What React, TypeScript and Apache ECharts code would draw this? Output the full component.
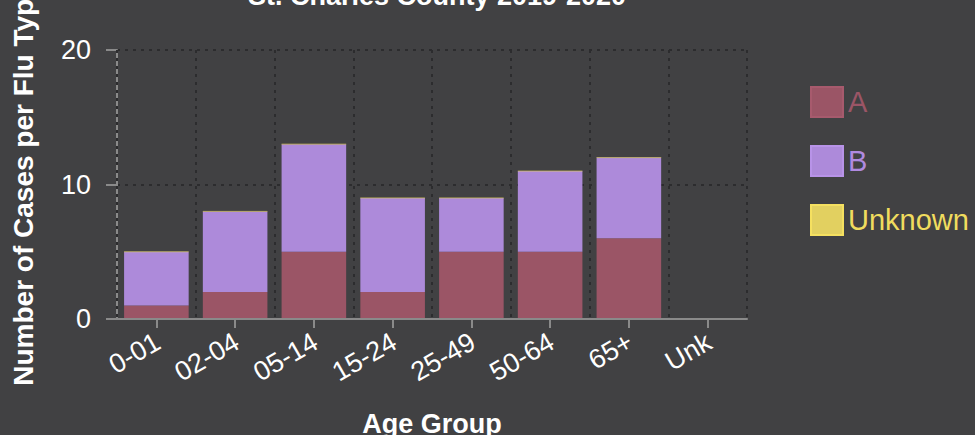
import React, { useEffect, useRef } from "react";
import * as echarts from "echarts";

const categories = ["0-01", "02-04", "05-14", "15-24", "25-49", "50-64", "65+", "Unk"];
const seriesA = [1, 2, 5, 2, 5, 5, 6, 0];
const seriesB = [4, 6, 8, 7, 4, 6, 6, 0];
const seriesUnknown = [0, 0, 0, 0, 0, 0, 0, 0];
const yTicks = { min: 0, max: 20, interval: 10 };

const FONT = "Liberation Sans, Arial, sans-serif";
const BG = "#414143";

export default function App() {
  const ref = useRef<HTMLDivElement>(null);
  useEffect(() => {
    if (!ref.current) return;
    const chart = echarts.init(ref.current, null, { renderer: "svg" });
    chart.setOption({
      animation: false,
      backgroundColor: BG,
      textStyle: { fontFamily: FONT },
      title: {
        text: "St. Charles County 2019-2020",
        left: 432,
        textAlign: "center",
        top: -23,
        textStyle: { color: "#ffffff", fontSize: 27, fontWeight: "bold", fontFamily: FONT },
      },
      legend: {
        orient: "vertical",
        left: 810,
        top: 86,
        padding: 0,
        itemWidth: 32,
        itemHeight: 30,
        itemGap: 27,
        icon: "rect",
        textStyle: { fontSize: 29, fontFamily: FONT },
        data: [
          { name: "A", textStyle: { color: "#9b5566" }, itemStyle: { color: "#9b5566", borderColor: "#a75a6d", borderWidth: 2 } },
          { name: "B", textStyle: { color: "#b08ae0" }, itemStyle: { color: "#ad8ada", borderColor: "#b893e8", borderWidth: 2 } },
          { name: "Unknown", textStyle: { color: "#f0dc5e" }, itemStyle: { color: "#e2d060", borderColor: "#f5e060", borderWidth: 2 } },
        ],
      },
      grid: { left: 117, right: 228, top: 50, bottom: 116, containLabel: false, outerBoundsMode: "none" },
      xAxis: {
        type: "category",
        data: categories,
        name: "Age Group",
        nameLocation: "middle",
        nameGap: 91,
        nameTextStyle: { color: "#ffffff", fontSize: 27, fontWeight: "bold", fontFamily: FONT },
        axisLine: { show: true, lineStyle: { color: "#8a8a8a", width: 2 } },
        axisTick: { show: true, alignWithLabel: true, length: 9, lineStyle: { color: "#8a8a8a", width: 2 } },
        axisLabel: {
          color: "#ffffff",
          fontSize: 27,
          rotate: 30,
          margin: 6,
          align: "right",
          verticalAlign: "top",
          padding: [0, 6, 0, 0],
          fontFamily: FONT,
          interval: 0,
        },
        splitLine: { show: true, lineStyle: { color: "#2c2c2e", type: [3, 5], width: 2 } },
        z: 5,
      },
      yAxis: {
        type: "value",
        min: yTicks.min,
        max: yTicks.max,
        interval: yTicks.interval,
        name: "Number of Cases per Flu Type",
        nameLocation: "middle",
        nameGap: 80,
        nameTextStyle: { color: "#ffffff", fontSize: 28, fontWeight: "bold", fontFamily: FONT },
        axisLine: { show: true, lineStyle: { color: "#8a8a8a", width: 2 } },
        axisTick: { show: true, length: 11, lineStyle: { color: "#8a8a8a", width: 2 } },
        axisLabel: { color: "#ffffff", fontSize: 27, margin: 26, fontFamily: FONT },
        splitLine: { show: true, lineStyle: { color: "#2c2c2e", type: [3, 5], width: 2 } },
      },
      series: [
        {
          name: "A",
          type: "bar",
          stack: "flu",
          barWidth: "82%",
          data: seriesA,
          itemStyle: { color: "#9b5566" },
        },
        {
          name: "B",
          type: "bar",
          stack: "flu",
          barWidth: "82%",
          data: seriesB,
          itemStyle: { color: "#ad8ada" },
        },
        {
          name: "Unknown",
          type: "bar",
          stack: "flu",
          barWidth: "82%",
          data: seriesUnknown,
          itemStyle: { color: "#e2d060", borderColor: "rgba(226,208,96,0.4)", borderWidth: 1 },
        },
      ],
    });
    return () => chart.dispose();
  }, []);
  return <div ref={ref} style={{ width: 975, height: 435, position: "absolute", left: 0, top: 0 }} />;
}
